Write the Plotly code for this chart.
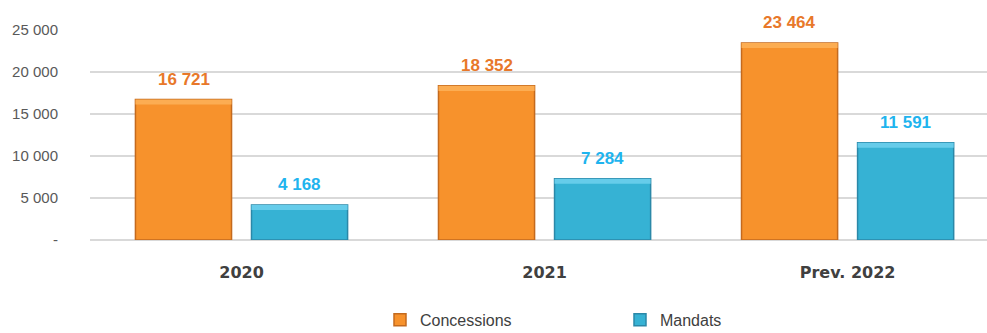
import plotly.graph_objects as go

# Chart data
categories = ["2020", "2021", "Prev. 2022"]
concessions = [16721, 18352, 23464]
mandats = [4168, 7284, 11591]
y_ticks = [0, 5000, 10000, 15000, 20000, 25000]
y_tick_labels = ["-", "5 000", "10 000", "15 000", "20 000", "25 000"]


def fmt(v):
    return f"{v:,}".replace(",", " ")


# Series styling: body colour, edge colour, top-bevel highlight, label colour
series = [
    dict(name="Concessions", values=concessions, group="c", offset=-58,
         color="#F7922C", edge="#C46A1E", shine="#FCAD52", label="#E8782A"),
    dict(name="Mandats", values=mandats, group="m", offset=58,
         color="#36B2D4", edge="#2B88A8", shine="#66CCEA", label="#1FB4EE"),
]

BEVEL = 600  # height of the highlighted top band, in axis units

fig = go.Figure()
for s in series:
    fig.add_trace(go.Bar(
        name=s["name"], x=categories, y=s["values"], offsetgroup=s["group"],
        marker=dict(color=s["color"], line=dict(color=s["edge"], width=1.5)),
    ))
for s in series:
    # lighter band along the top of each bar for a bevelled look
    fig.add_trace(go.Bar(
        x=categories, y=[BEVEL] * len(s["values"]),
        base=[v - BEVEL for v in s["values"]], offsetgroup=s["group"],
        marker=dict(color=s["shine"], line=dict(width=0)),
        showlegend=False, hoverinfo="skip",
    ))
    for i, v in enumerate(s["values"]):
        fig.add_annotation(
            x=i, y=v, text=f"<b>{fmt(v)}</b>", showarrow=False,
            xshift=s["offset"], yshift=20, yanchor="middle",
            font=dict(color=s["label"], size=17, family="Liberation Sans, Arial"),
        )

fig.update_layout(
    width=987, height=333,
    margin=dict(l=90, r=0, t=30, b=93, autoexpand=False),
    paper_bgcolor="white", plot_bgcolor="white",
    barmode="group", bargap=0.234, bargroupgap=0.172,
    font=dict(family="Liberation Sans, Arial", color="#595959"),
    showlegend=True,
    legend=dict(
        orientation="h", xref="container", yref="paper",
        x=0.385, xanchor="left", y=-0.38, yanchor="middle",
        entrywidth=195, entrywidthmode="pixels",
        font=dict(size=16, color="#404040", family="Liberation Sans, Arial"),
        itemwidth=30, traceorder="normal",
    ),
    xaxis=dict(
        type="category", range=[-0.5, 2.46], automargin=False,
        showgrid=False, showline=False, zeroline=False,
        ticks="outside", ticklen=18, tickcolor="rgba(0,0,0,0)",
        tickfont=dict(size=16, color="#404040", family="DejaVu Sans", weight="bold"),
    ),
    yaxis=dict(
        range=[0, 25000], tickvals=y_ticks, ticktext=y_tick_labels, automargin=False,
        showgrid=True, gridcolor="#D9D9D9", gridwidth=1.5,
        zeroline=True, zerolinecolor="#D9D9D9", zerolinewidth=1.5,
        ticks="outside", ticklen=28, tickcolor="rgba(0,0,0,0)",
        tickfont=dict(size=15, color="#595959", family="Liberation Sans, Arial"),
    ),
)

fig.write_html("out.html")
